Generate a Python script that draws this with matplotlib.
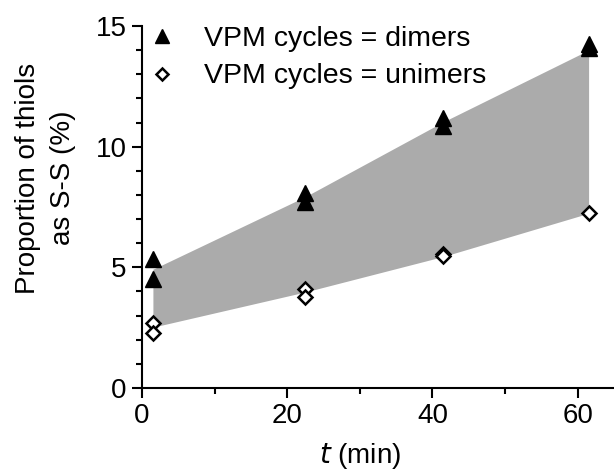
import matplotlib
matplotlib.use("Agg")
import matplotlib.pyplot as plt
from matplotlib.ticker import MultipleLocator
from matplotlib.lines import Line2D

plt.rcParams['font.family'] = ['Liberation Sans', 'DejaVu Sans']

# data
dimer_t = [1.5, 1.5, 22.5, 22.5, 41.5, 41.5, 61.5, 61.5]
dimer_y = [5.35, 4.5, 8.1, 7.72, 11.2, 10.86, 14.25, 14.07]
unimer_t = [1.5, 1.5, 22.5, 22.5, 41.5, 41.5, 61.5]
unimer_y = [2.7, 2.26, 4.1, 3.78, 5.55, 5.47, 7.24]
band_t = [1.5, 22.5, 41.5, 61.5]
band_upper = [4.92, 7.93, 11.03, 14.0]
band_lower = [2.52, 3.98, 5.45, 7.24]

fig = plt.figure(figsize=(6.14, 4.70), dpi=100)
ax = fig.add_axes([0.2313, 0.1745, 0.7687, 0.7702])

ax.fill_between(band_t, band_lower, band_upper, color='#ababab', lw=0, zorder=1)
ax.plot(dimer_t, dimer_y, ls='none', marker='^', ms=12, mfc='black', mec='black', zorder=3)
ax.plot(unimer_t, unimer_y, ls='none', marker='D', ms=7.5, mfc='white', mec='black', mew=1.8, zorder=3)

ax.set_xlim(0, 65)
ax.set_ylim(0, 15)
ax.xaxis.set_major_locator(MultipleLocator(20))
ax.xaxis.set_minor_locator(MultipleLocator(10))
ax.yaxis.set_major_locator(MultipleLocator(5))
ax.yaxis.set_minor_locator(MultipleLocator(1))
for s in ['top', 'right']:
    ax.spines[s].set_visible(False)
for s in ['left', 'bottom']:
    ax.spines[s].set_linewidth(1.5)
ax.tick_params(which='major', direction='out', length=7, width=1.5, labelsize=20, pad=4)
ax.tick_params(which='minor', direction='out', length=4, width=1.5)

ax.set_xlabel(r'$\it{t}$ (min)', fontsize=20)
ax.xaxis.set_label_coords((360 - 142) / 472, -(441 - 388) / 362)
ax.set_ylabel('Proportion of thiols\nas S-S (%)', fontsize=20, linespacing=1.45)
ax.yaxis.set_label_coords(-(142 - 76) / 472, (388 - 178) / 362)

handles = [Line2D([], [], ls='none', marker='^', ms=9.5, mfc='black', mec='black'),
           Line2D([], [], ls='none', marker='D', ms=6.5, mfc='white', mec='black', mew=1.8)]
leg = ax.legend(handles, ['VPM cycles = dimers', 'VPM cycles = unimers'], loc='upper left',
          bbox_to_anchor=(-0.011, 1.032), frameon=False, fontsize=20.5, handlelength=1.0,
          handletextpad=0.95, labelspacing=0.41, borderaxespad=0.2, borderpad=0.2)

fig.savefig('out.png', dpi=100)
